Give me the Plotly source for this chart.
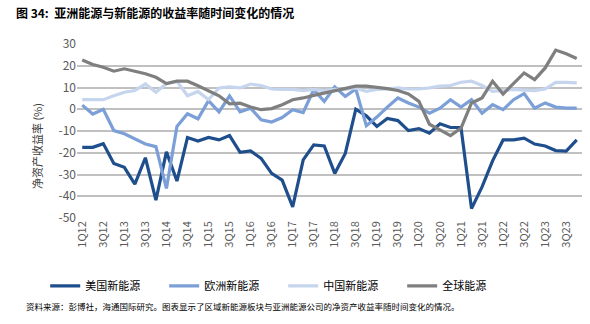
import plotly.graph_objects as go

quarters = [f"{q}Q{y}" for y in range(12, 24) for q in range(1, 5)]

us_new = [-17.5, -17.5, -15.8, -24.9, -26.7, -34.4, -22.3, -41.8, -19.6, -33.0,
          -13.0, -14.6, -13.0, -14.1, -12.1, -19.8, -19.2, -22.6, -29.5, -32.6,
          -44.9, -23.3, -16.4, -16.9, -29.5, -20.3, 0.0, -3.0, -7.9, -4.2,
          -5.2, -9.8, -8.9, -11.0, -6.7, -8.4, -8.4, -45.7, -35.7, -23.7,
          -14.1, -14.1, -13.3, -16.0, -16.9, -19.0, -19.2, -14.1]

eu_new = [1.9, -2.2, 0.0, -9.8, -11.3, -13.6, -16.0, -17.2, -36.4, -7.9,
          -2.1, -4.4, 3.9, -1.2, 6.1, -1.2, 0.5, -4.9, -5.9, -3.8,
          -0.2, -1.5, 9.0, 3.6, 10.3, 5.9, 9.3, -7.6, -3.6, 1.0,
          5.2, 2.9, 1.0, -1.8, 0.5, 4.4, 1.0, 4.4, -1.8, 2.1,
          -0.2, 4.4, 7.2, 0.5, 2.9, 1.0, 0.5, 0.5]

cn_new = [4.4, 4.4, 4.4, 6.2, 7.8, 8.6, 11.6, 7.8, 11.7, 12.9,
          6.2, 8.2, 4.4, 9.8, 10.3, 9.8, 11.6, 10.9, 9.3, 9.1,
          9.1, 8.6, 9.1, 8.6, 9.1, 9.1, 9.8, 8.2, 9.1, 9.3,
          9.8, 9.3, 9.3, 9.8, 10.6, 10.9, 12.4, 12.9, 10.9, 8.2,
          8.6, 9.1, 8.8, 8.6, 9.3, 12.4, 12.4, 12.1]

global_energy = [22.6, 20.6, 19.3, 17.5, 18.6, 17.5, 16.3, 14.7, 11.8, 12.9,
                 12.9, 10.8, 8.6, 6.2, 2.5, 2.8, 1.0, -0.2, 0.3, 2.1,
                 4.4, 5.2, 6.4, 7.5, 8.6, 9.5, 10.6, 10.6, 10.1, 9.5,
                 8.6, 7.0, 3.6, -6.9, -9.5, -12.1, -8.7, 2.9, 5.2, 12.9,
                 7.0, 12.1, 16.7, 13.6, 19.0, 27.2, 25.5, 23.3]

series = [
    ("美国新能源", us_new, "#1F4E8C"),
    ("欧洲新能源", eu_new, "#7B9FD6"),
    ("中国新能源", cn_new, "#C6D5EE"),
    ("全球能源", global_energy, "#7F7F7F"),
]

tick_labels = quarters[::2]
y_ticks = list(range(-50, 31, 10))
y_tick_text = [str(v) for v in y_ticks]

fig = go.Figure()
for name, vals, color in series:
    fig.add_trace(go.Scatter(x=quarters, y=vals, name=name, mode="lines",
                             line=dict(color=color, width=3.2)))

FONT = "Noto Sans CJK SC, Noto Sans, Arial, sans-serif"

fig.update_layout(
    width=590, height=324,
    margin=dict(l=77, r=8, t=44, b=106),
    paper_bgcolor="white", plot_bgcolor="white",
    font=dict(family=FONT, color="#595959", size=11),
    title=dict(text="<b>图 34:  亚洲能源与新能源的收益率随时间变化的情况</b>",
               xref="container", yref="container", x=0.027, xanchor="left",
               y=1 - 14 / 324, yanchor="middle",
               font=dict(family=FONT, size=12, color="#000000")),
    showlegend=True,
    legend=dict(orientation="h", x=-0.063, xanchor="left", y=-0.39, yanchor="middle",
                font=dict(family=FONT, size=11, color="#000000"),
                entrywidth=74, entrywidthmode="pixels",
                bgcolor="rgba(0,0,0,0)", itemwidth=30, tracegroupgap=0),
    xaxis=dict(type="category", categoryorder="array", categoryarray=quarters,
               tickmode="array", tickvals=tick_labels, ticktext=tick_labels,
               tickangle=-90, showgrid=False, showline=False, ticks="",
               tickfont=dict(size=11, color="#595959"),
               range=[-0.5, len(quarters) - 0.5], zeroline=False),
    yaxis=dict(range=[-50, 30], tickmode="array", tickvals=y_ticks, ticktext=y_tick_text,
               showgrid=True, gridcolor="#C0C0C0", gridwidth=1.5,
               zeroline=False, showline=False, ticks="",
               tickfont=dict(size=12, color="#595959")),
    annotations=[
        dict(text="资料来源：彭博社，海通国际研究。图表显示了区域新能源板块与亚洲能源公司的净资产收益率随时间变化的情况。",
             xref="paper", yref="paper", x=-0.105, y=-0.505,
             xanchor="left", yanchor="middle", showarrow=False,
             font=dict(family=FONT, size=8.5, color="#000000")),
        dict(text="净资产收益率 (%)", textangle=-90,
             xref="paper", yref="paper", x=-0.079, y=0.414,
             xanchor="center", yanchor="middle", showarrow=False,
             font=dict(family=FONT, size=11, color="#404040")),
    ],
)

fig.write_html("out.html")
